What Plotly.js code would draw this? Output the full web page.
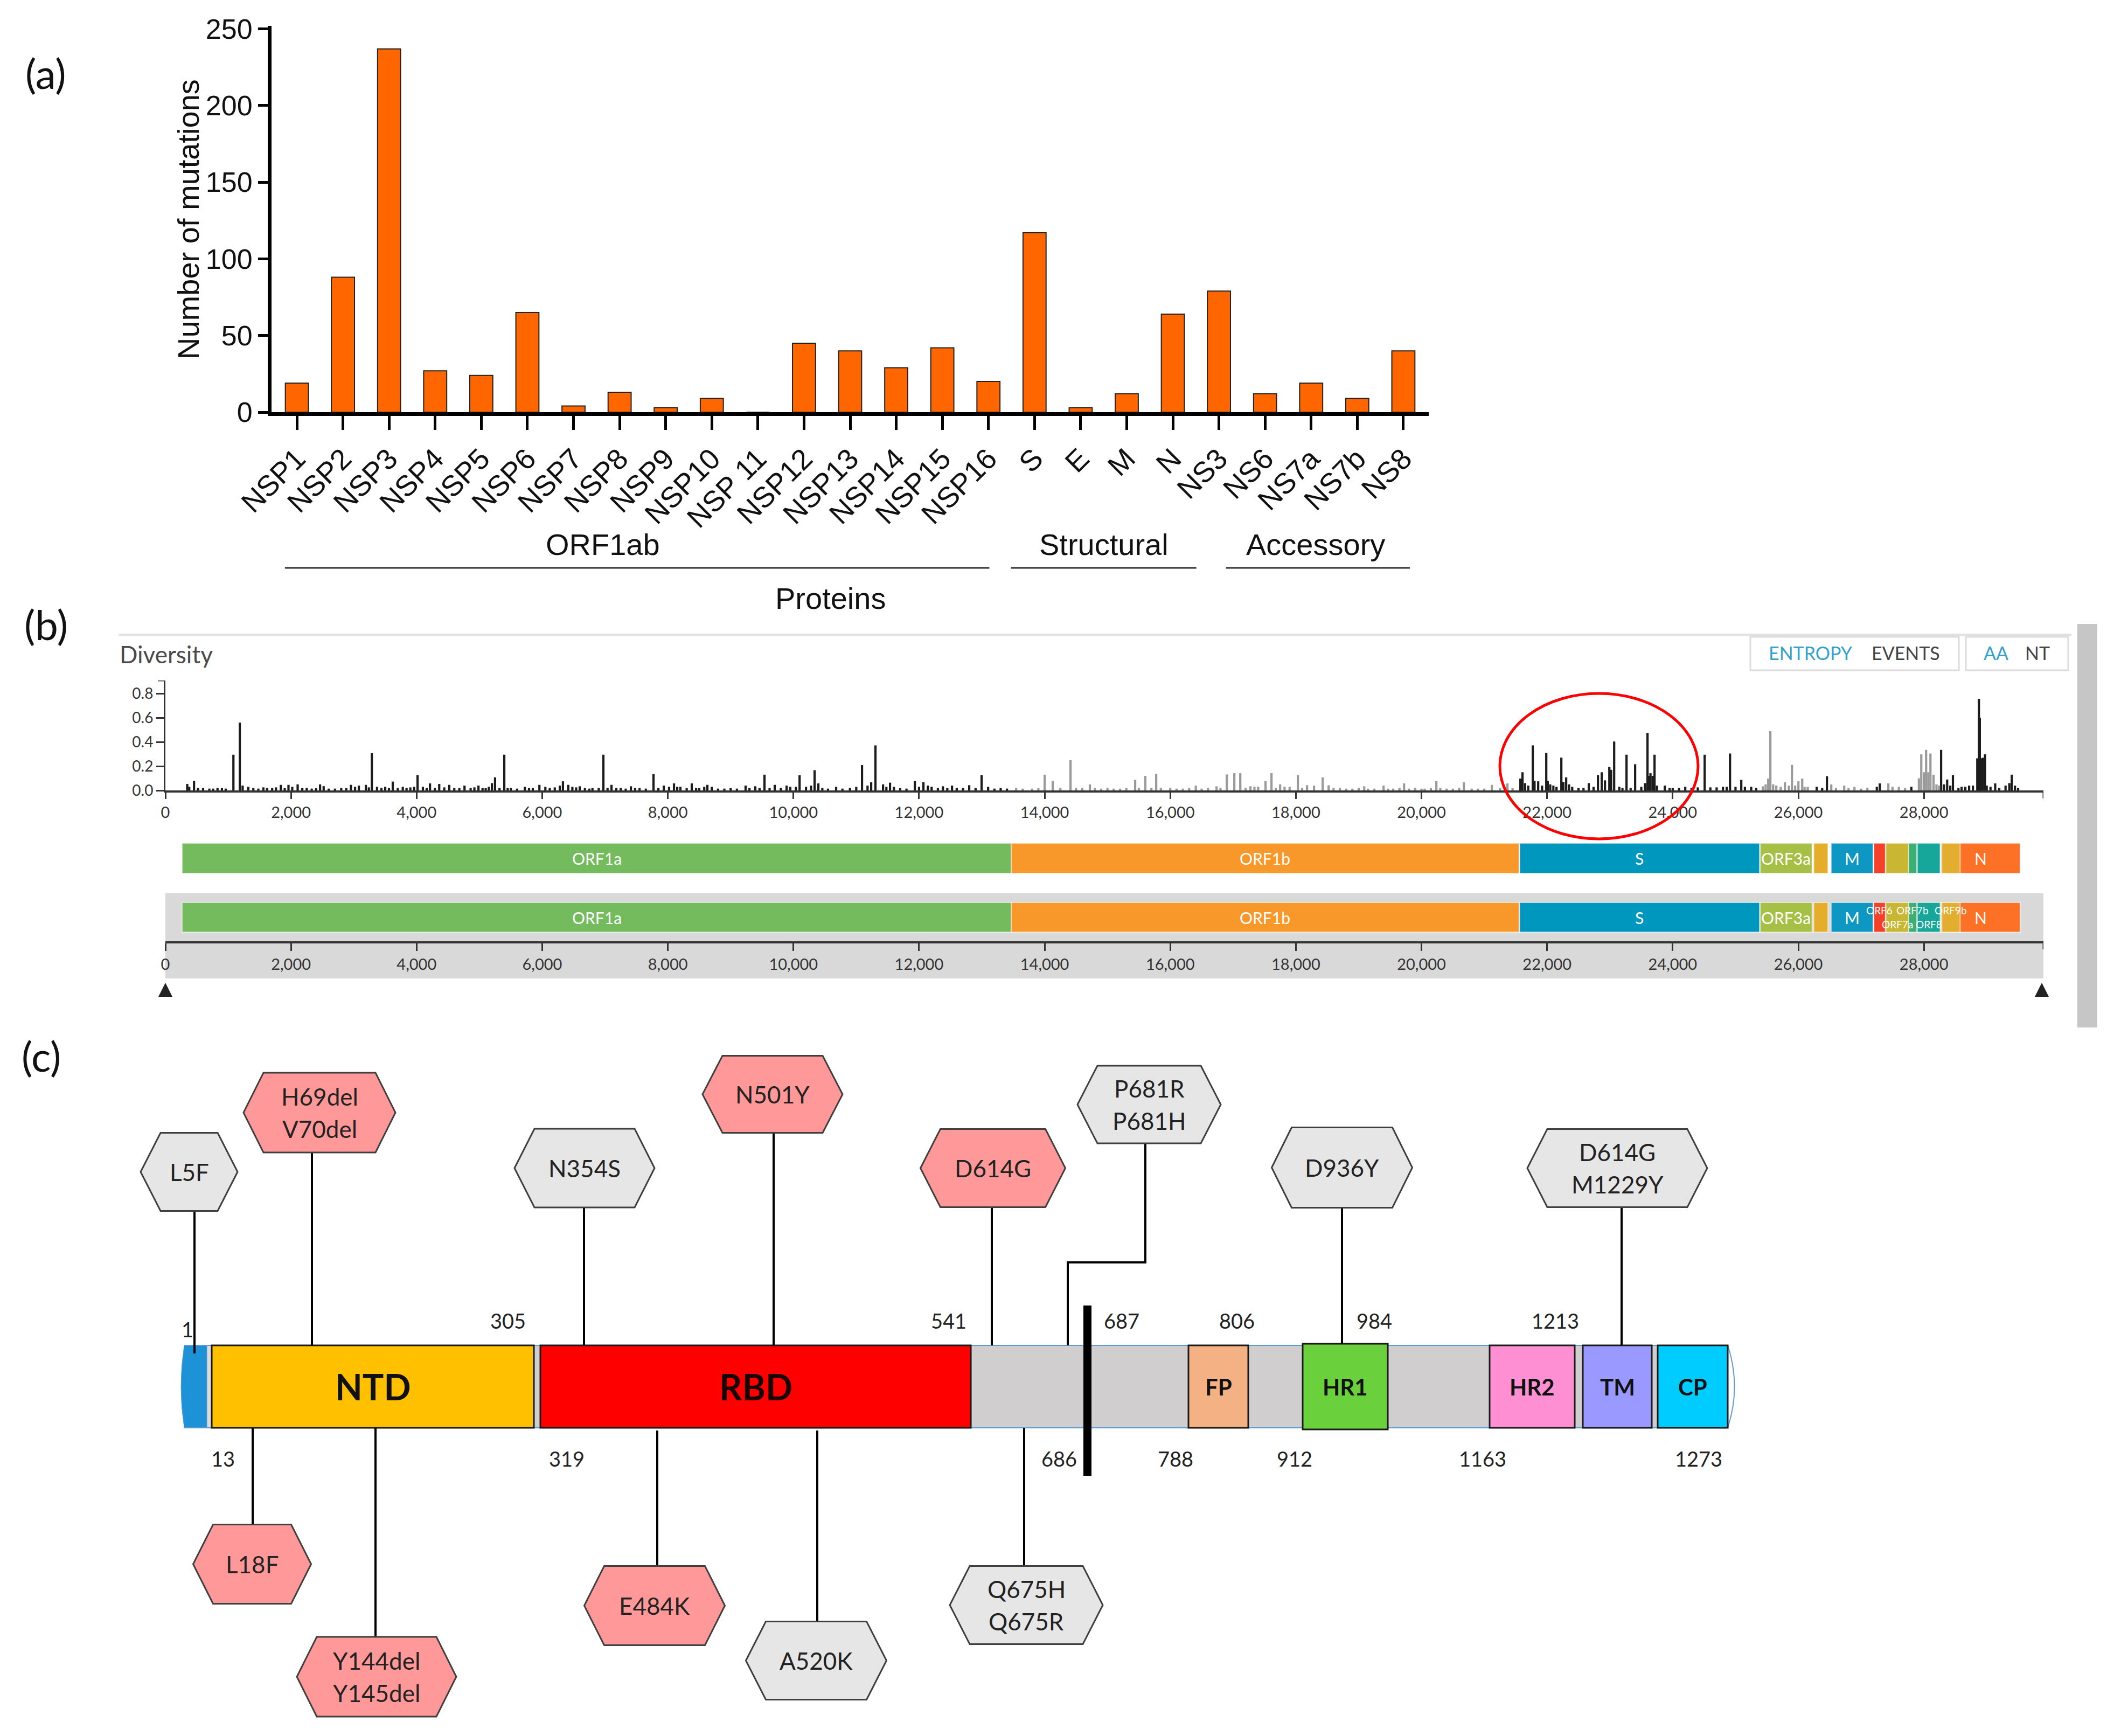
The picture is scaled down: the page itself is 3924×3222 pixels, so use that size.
<!DOCTYPE html>
<html><head><meta charset="utf-8">
<script src="https://cdn.plot.ly/plotly-3.0.1.min.js"></script>
<style>html,body{margin:0;padding:0;background:#fff}#chart{width:3924px;height:3222px}</style>
</head><body><div id="chart"></div>
<script>
// ===================== DATA =====================
// (a) mutations per protein
const proteins = ['NSP1','NSP2','NSP3','NSP4','NSP5','NSP6','NSP7','NSP8','NSP9','NSP10','NSP 11','NSP12','NSP13','NSP14','NSP15','NSP16','S','E','M','N','NS3','NS6','NS7a','NS7b','NS8'];
const mutationCounts = [19,88,237,27,24,65,4,13,3,9,0,45,40,29,42,20,117,3,12,64,79,12,19,9,40];
const groupNames = ['ORF1ab','Structural','Accessory'];
const groupFirst = [0,16,20];
const groupLast = [15,19,24];
const yTicksA = [0,50,100,150,200,250];

// (b) genome diversity (entropy)
const genes      = ['ORF1a','ORF1b','S','ORF3a','E','M','ORF6','ORF7a','ORF7b','ORF8','N','ORF9b'];
const geneStart  = [266,13468,21563,25393,26245,26523,27202,27394,27756,27894,28274,28284];
const geneEnd    = [13468,21555,25384,26220,26472,27191,27387,27759,27887,28259,29533,28577];
const mainTrackLabels = ['ORF1a','ORF1b','S','ORF3a','M','N'];
const navTrackLabels  = ['ORF1a','ORF1b','S','ORF3a','M','ORF6','ORF7a','ORF7b','ORF8','ORF9b','N'];
const genomeLength = 29903;
const entropyTicks = [0,0.2,0.4,0.6,0.8];
const entropyPos = [348,380,456,520,600,700,760,830,900,960,1083,1185,1230,1320,1400,1480,1560,1620,1700,1760,1838,1900,1960,2020,2106,2180,2250,2330,2400,2463,2520,2600,2700,2800,2880,2954,3020,3080,3192,3240,3287,3370,3440,3500,3560,3620,3700,3780,3840,3900,3960,4015,4100,4160,4213,4290,4360,4440,4520,4600,4680,4763,4860,4920,4985,5050,5100,5150,5199,5249,5320,5396,5450,5500,5600,5723,5790,5850,5955,6050,6120,6200,6280,6330,6415,6480,6540,6597,6680,6750,6800,6900,6974,7040,7103,7180,7250,7330,7412,7480,7550,7650,7772,7850,7936,8020,8098,8150,8200,8300,8381,8450,8500,8580,8630,8700,8800,8900,9000,9100,9238,9300,9393,9460,9539,9620,9702,9800,9891,9950,10040,10098,10200,10280,10337,10397,10460,10550,10680,10780,10900,11000,11092,11180,11238,11306,11427,11480,11538,11600,11700,11800,11933,12000,12070,12140,12200,12300,12380,12450,12525,12600,12700,12799,12900,12996,13100,13200,13300,13400,
13546,13650,13800,13900,14000,14128,14250,14412,14500,14600,14720,14800,14900,15000,15100,15200,15300,15441,15500,15603,15700,15776,15850,16000,16100,16200,16300,16407,16500,16600,16737,16800,16900,17020,17115,17200,17277,17340,17400,17517,17612,17680,17749,17820,17900,18032,18100,18178,18289,18427,18522,18600,18700,18800,18900,19000,19088,19150,19250,19397,19470,19550,19650,19723,19800,19900,20000,20050,20150,20237,20300,20400,20500,20600,20675,20800,20900,21000,21120,21250,21369,21450,
21575,21609,21650,21700,21772,21800,21858,21920,21987,22010,22050,22100,22150,22227,22260,22304,22350,22400,22500,22580,22664,22740,22810,22870,22922,22991,23020,23068,23150,23200,23265,23330,23402,23500,23560,23599,23620,23646,23680,23711,23750,23874,23950,24000,24100,24200,24300,24400,24509,24600,24700,24800,24860,24913,25000,25092,25150,25250,25330,
25435,25480,25521,25555,25600,25650,25720,25787,25850,25899,25950,26002,26062,26100,26150,
26293,26380,26456,26525,26600,26731,26800,26894,27000,27100,27250,27297,27434,27500,27600,27700,27800,
27920,27958,28000,28035,28070,28104,28153,28200,28240,
28274,28320,28370,28420,28462,28550,28600,28660,28720,28780,28850,28876,28890,28910,28940,28973,29000,29060,29135,29200,29300,29360,29399,29450,29500];
const entropyVal = [.053,.03,.08,.02,.02,.015,.015,.02,.02,.015,.295,.56,.04,.03,.02,.015,.025,.02,.02,.025,.046,.02,.046,.03,.05,.02,.02,.015,.02,.05,.035,.015,.015,.02,.02,.046,.03,.04,.046,.025,.308,.03,.02,.03,.02,.073,.02,.03,.02,.025,.03,.127,.03,.02,.058,.02,.053,.025,.046,.02,.02,.04,.02,.025,.04,.02,.02,.03,.06,.108,.02,.295,.02,.02,.015,.03,.02,.02,.046,.03,.02,.025,.04,.075,.046,.03,.025,.034,.02,.015,.02,.02,.295,.02,.046,.02,.02,.015,.034,.02,.02,.015,.135,.02,.04,.03,.058,.03,.03,.02,.058,.02,.02,.03,.046,.03,.015,.015,.02,.015,.04,.02,.034,.02,.13,.02,.046,.02,.04,.03,.03,.126,.03,.04,.167,.058,.02,.015,.03,.015,.02,.03,.209,.04,.068,.372,.05,.03,.064,.03,.02,.015,.078,.03,.068,.04,.03,.02,.034,.02,.04,.02,.02,.043,.02,.127,.03,.015,.02,.015,
.02,.015,.015,.02,.13,.08,.02,.25,.02,.02,.05,.02,.015,.02,.015,.015,.02,.087,.02,.12,.02,.138,.02,.02,.015,.015,.02,.04,.015,.02,.034,.02,.132,.142,.142,.02,.034,.03,.03,.078,.142,.02,.05,.03,.03,.127,.02,.043,.04,.108,.043,.02,.02,.015,.015,.02,.034,.015,.015,.04,.015,.015,.02,.058,.015,.02,.015,.015,.02,.078,.02,.015,.015,.02,.068,.015,.015,.015,.046,.02,.058,.02,
.098,.15,.06,.04,.372,.08,.075,.04,.31,.08,.05,.04,.03,.271,.07,.108,.05,.03,.02,.02,.06,.03,.127,.15,.083,.194,.17,.404,.03,.02,.295,.02,.216,.03,.06,.476,.12,.142,.12,.295,.04,.04,.02,.02,.02,.03,.02,.025,.295,.025,.025,.03,.03,.305,.03,.087,.03,.03,.02,
.034,.05,.098,.49,.05,.04,.03,.068,.04,.212,.04,.075,.098,.03,.03,
.03,.02,.117,.05,.02,.04,.02,.03,.015,.02,.03,.058,.058,.03,.03,.02,.03,
.1,.298,.15,.335,.15,.305,.13,.05,.04,
.335,.05,.09,.04,.127,.02,.03,.03,.04,.04,.265,.757,.6,.265,.27,.298,.04,.03,.058,.02,.04,.06,.13,.04,.02];

// (c) spike protein schematic
const domainNames = ['NTD','RBD','FP','HR1','HR2','TM','CP'];
const topBoundaries = ['1','305','541','687','806','984','1213'];
const bottomBoundaries = ['13','319','686','788','912','1163','1273'];
const mutationLabels = [['L5F'],['H69del','V70del'],['N354S'],['N501Y'],['D614G'],['P681R','P681H'],['D936Y'],['D614G','M1229Y'],['L18F'],['Y144del','Y145del'],['E484K'],['A520K'],['Q675H','Q675R']];
const mutationHighlighted = [false,true,false,true,true,false,false,false,true,true,true,false,false];

// ===================== STYLE / POSITIONS =====================
const W = 3924, H = 3222;
const PX = p => p / W, PY = p => 1 - p / H;
const barColor = '#FF6600';
const geneColors = ['#74BB5E','#F8982A','#0097BF','#A6BF45','#E4AE2B','#0E97C2','#F5402A','#C9B733','#3DAF74','#16A79A','#FC7125','#E3AE2F'];
const spikeColors = ['#1c1c1c','#9a9a9a'];
const groupLineExt = [[-0.26,15.02],[15.49,19.51],[20.15,24.14]];
const groupLabelX = [6.64,17.5,22.1];
const smallLabelStagger = {ORF6:-13, ORF7a:13, ORF7b:-13, ORF8:13, ORF9b:-13};
const domainBoxes = [ // x0,x1,fill,textColor,fontSize
  [393,991,'#FFC000','#111',66],[1003,1802,'#FF0000','#1a0000',66],[2206,2317,'#F4B183','#111',42],
  [2418,2576,'#6AD13C','#111',42],[2765,2923,'#FF8FD3','#111',42],[2938,3066,'#9999FF','#111',42],[3077,3207,'#00CCFF','#111',42]];
const topBoundX = [348,943,1761,2082,2296,2551,2887];
const botBoundX = [414,1052,1966,2182,2403,2752,3153];
const mutLayout = [ // cx, cy, w, h, stemX, stemY0, stemY1
  [351,2175,180,145,361,2247,2512],[593,2065,282,148,579,2139,2497],[1085,2168,260,146,1084,2241,2497],
  [1434,2031,260,143,1436,2102,2497],[1843,2168,269,145,1841,2241,2497],[2133,2050,266,144,null,null,null],
  [2491,2167,261,149,2491,2241,2494],[3002,2168,334,145,3010,2241,2497],
  [468,2903,219,147,469,2650,2830],[699,3112,296,148,697,2650,3038],[1215,2980,261,147,1220,2655,2906],
  [1515,3082,261,145,1517,2655,3009],[1905,2979,284,145,1901,2650,2906]];

// ===================== TRACES =====================
const traces = [];
traces.push({type:'bar', x:proteins, y:mutationCounts, xaxis:'x', yaxis:'y', width:0.5,
  marker:{color:barColor, line:{color:'#222', width:2}}, hoverinfo:'skip'});

function geneIndexOf(p){ for(let i=0;i<genes.length-1;i++){ if(p>=geneStart[i] && p<=geneEnd[i]) return i; } return 0; }
[0,1].forEach(par=>{
  const xs=[], ys=[];
  entropyPos.forEach((p,i)=>{ if(geneIndexOf(p)%2===par){ xs.push(p); ys.push(entropyVal[i]); } });
  traces.push({type:'bar', x:xs, y:ys, xaxis:'x2', yaxis:'y2', width:36, marker:{color:spikeColors[par], line:{width:0}}, hoverinfo:'skip'});
});
traces.push({type:'scatter', x:[null], y:[null], xaxis:'x3', yaxis:'y3', hoverinfo:'skip', showlegend:false});
traces.push({type:'scatter', x:[null], y:[null], xaxis:'x9', yaxis:'y9', hoverinfo:'skip', showlegend:false});

// ===================== SHAPES & ANNOTATIONS =====================
const shapes = [], ann = [];
const P = (o)=>Object.assign({xref:'x9', yref:'y9'}, o);
const txt = (x,y,t,size,color,extra)=>ann.push(Object.assign({xref:'x9',yref:'y9',x:x,y:y,text:t,showarrow:false,
  font:{family:'Lato, sans-serif',size:size,color:color},xanchor:'center',yanchor:'middle'},extra||{}));

// panel labels
txt(85,135,'(a)',76,'#111'); txt(85,1158,'(b)',76,'#111'); txt(76,1959,'(c)',76,'#111');

// (a) y-axis title, group labels, lines
ann.push({xref:'x9',yref:'y9',x:349,y:407,text:'Number of mutations',textangle:-90,showarrow:false,
  font:{family:'Liberation Sans, Arial, sans-serif',size:56,color:'#111'},xanchor:'center',yanchor:'middle'});
groupNames.forEach((g,i)=>{
  ann.push({xref:'x',yref:'y9',x:groupLabelX[i],y:1010,text:g,showarrow:false,
    font:{family:'Liberation Sans, Arial, sans-serif',size:56,color:'#111'},xanchor:'center',yanchor:'middle'});
  shapes.push({type:'line',xref:'x',yref:'y9',x0:groupLineExt[i][0],x1:groupLineExt[i][1],y0:1054,y1:1054,line:{color:'#333',width:3}});
});
ann.push({xref:'x',yref:'y9',x:11.57,y:1110,text:'Proteins',showarrow:false,
  font:{family:'Liberation Sans, Arial, sans-serif',size:56,color:'#111'},xanchor:'center',yanchor:'middle'});

// (b) header
shapes.push(P({type:'line',x0:220,x1:3845,y0:1178,y1:1178,line:{color:'#E2E2E2',width:4}}));
txt(220,1214,'Diversity',44,'#4a4a4a',{xanchor:'left'});
shapes.push(P({type:'rect',x0:3249,x1:3636,y0:1182,y1:1244,line:{color:'#DCDCDC',width:3},fillcolor:'#fff'}));
shapes.push(P({type:'rect',x0:3649,x1:3839,y0:1182,y1:1244,line:{color:'#DCDCDC',width:3},fillcolor:'#fff'}));
txt(3361,1211,'ENTROPY',34,'#33A0CC'); txt(3537,1211,'EVENTS',34,'#444');
txt(3705,1211,'AA',34,'#33A0CC'); txt(3782,1211,'NT',34,'#444');
// scrollbar
shapes.push(P({type:'rect',x0:3856,x1:3893,y0:1158,y1:1907,line:{width:0},fillcolor:'#C6C6C6'}));
// nav grey band
shapes.push({type:'rect',xref:'x2',yref:'y9',x0:0,x1:genomeLength,y0:1658,y1:1816,line:{width:0},fillcolor:'#D9D9D9',layer:'below'});
// gene tracks
[[1565,1621,mainTrackLabels,false],[1675,1730,navTrackLabels,true]].forEach(([y0,y1,labs,stagger])=>{
  genes.forEach((g,i)=>{
    shapes.push({type:'rect',xref:'x2',yref:'y9',x0:geneStart[i],x1:geneEnd[i],y0:y0,y1:y1,fillcolor:geneColors[i],
      line:{color:'rgba(255,255,255,0.55)',width:2},layer:'below'});
  });
  genes.forEach((g,i)=>{
    if(labs.indexOf(g)<0) return;
    const small = stagger && (g in smallLabelStagger);
    ann.push({xref:'x2',yref:'y9',x:(geneStart[i]+geneEnd[i])/2,y:(y0+y1)/2+(small?smallLabelStagger[g]:0),text:g,showarrow:false,
      font:{family:'Lato, sans-serif',size:small?19:30,color:'#fff'},xanchor:'center',yanchor:'middle'});
  });
});
// axis end ticks + triangles
shapes.push({type:'line',xref:'x2',yref:'y9',x0:genomeLength,x1:genomeLength,y0:1467,y1:1482,line:{color:'#333',width:3}});
shapes.push({type:'line',xref:'x2',yref:'y9',x0:genomeLength,x1:genomeLength,y0:1747,y1:1762,line:{color:'#333',width:3}});
shapes.push({type:'line',xref:'x9',yref:'y2',x0:293,x1:307,y0:0.908,y1:0.908,line:{color:'#333',width:3}});
[307,3790].forEach(x=>shapes.push(P({type:'path',path:`M${x-13},1850 L${x},1824 L${x+13},1850 Z`,fillcolor:'#222',line:{width:0}})));
// red circle
shapes.push(P({type:'circle',x0:2784,x1:3152,y0:1287,y1:1557,line:{color:'#FF0000',width:5}}));

// (c) spike schematic
const by0=2497, by1=2650;
shapes.push(P({type:'rect',x0:384,x1:3207,y0:by0,y1:by1,fillcolor:'#D0CECE',line:{width:0}}));
shapes.push(P({type:'rect',x0:384,x1:393,y0:by0,y1:by1,fillcolor:'#DCDCDC',line:{width:0}}));
shapes.push(P({type:'path',path:`M342,${by0} L384,${by0} L384,${by1} L342,${by1} Q330,${(by0+by1)/2} 342,${by0} Z`,fillcolor:'#1E92D6',line:{color:'#5B9BD5',width:1}}));
shapes.push(P({type:'line',x0:342,x1:3207,y0:by0,y1:by0,line:{color:'#5B9BD5',width:2}}));
shapes.push(P({type:'line',x0:342,x1:3207,y0:by1,y1:by1,line:{color:'#5B9BD5',width:2}}));
shapes.push(P({type:'path',path:`M3207,${by0} Q3232,${(by0+by1)/2} 3207,${by1}`,line:{color:'#5B9BD5',width:2}}));
domainBoxes.forEach((d,i)=>{
  const tall = domainNames[i]==='HR1';
  shapes.push(P({type:'rect',x0:d[0],x1:d[1],y0:tall?by0-3:by0,y1:tall?by1+3:by1,fillcolor:d[2],line:{color:'#1a1a1a',width:3}}));
  ann.push({xref:'x9',yref:'y9',x:(d[0]+d[1])/2,y:(by0+by1)/2,text:'<b>'+domainNames[i]+'</b>',showarrow:false,
    font:{family:'Lato, sans-serif',size:d[4],color:d[3]},xanchor:'center',yanchor:'middle'});
});
// cleavage site bar
shapes.push(P({type:'rect',x0:2011,x1:2026,y0:2423,y1:2739,fillcolor:'#000',line:{width:0}}));
topBoundaries.forEach((t,i)=>txt(topBoundX[i],t==='1'?2467:2451,t,38,'#222'));
bottomBoundaries.forEach((t,i)=>txt(botBoundX[i],2707,t,38,'#222'));
// stems
mutLayout.forEach(m=>{ if(m[4]!==null) shapes.push(P({type:'line',x0:m[4],x1:m[4],y0:m[5],y1:m[6],line:{color:'#000',width:4}})); });
shapes.push(P({type:'path',path:'M2126,2122 L2126,2343 L1982,2343 L1982,2497',line:{color:'#000',width:4}}));
// hexagons
const inset = 37;
mutLayout.forEach((m,i)=>{
  const [cx,cy,w,h]=m, x0=cx-w/2, x1=cx+w/2, y0=cy-h/2, y1=cy+h/2;
  shapes.push(P({type:'path',path:`M${x0+inset},${y0} L${x1-inset},${y0} L${x1},${cy} L${x1-inset},${y1} L${x0+inset},${y1} L${x0},${cy} Z`,
    fillcolor:mutationHighlighted[i]?'#FF9999':'#E7E6E6',line:{color:'#3F3F3F',width:3}}));
  const lines = mutationLabels[i];
  lines.forEach((l,j)=>txt(cx, cy+(j-(lines.length-1)/2)*60, l, 44, '#222'));
});

// ===================== LAYOUT =====================
const layout = {
  width:W, height:H, margin:{l:0,r:0,t:0,b:0}, paper_bgcolor:'#fff', plot_bgcolor:'rgba(0,0,0,0)',
  showlegend:false, barmode:'overlay',
  xaxis:{domain:[PX(504),PX(2652)], anchor:'y', type:'category', range:[-0.55,24.55], showline:true, linecolor:'#000', linewidth:7,
    ticks:'outside', ticklen:26, tickwidth:5, tickcolor:'#000', tickangle:-45, showgrid:false, zeroline:false,
    tickfont:{family:'Liberation Sans, Arial, sans-serif', size:54, color:'#111'}},
  yaxis:{domain:[PY(765),PY(48)], anchor:'x', range:[0,252], tickvals:yTicksA, showline:true, linecolor:'#000', linewidth:7,
    ticks:'outside', ticklen:18, tickwidth:5, tickcolor:'#000', showgrid:false, zeroline:false,
    tickfont:{family:'Liberation Sans, Arial, sans-serif', size:52, color:'#111'}},
  xaxis2:{domain:[PX(307),PX(3793)], anchor:'y2', range:[0,genomeLength], showline:true, linecolor:'#333', linewidth:4,
    ticks:'outside', ticklen:12, tickwidth:3, tickcolor:'#333', tick0:0, dtick:2000, tickformat:',d', showgrid:false, zeroline:false,
    tickfont:{family:'Lato, sans-serif', size:29, color:'#333'}},
  yaxis2:{domain:[PY(1467),PY(1263)], anchor:'x2', range:[0,0.908], tickvals:entropyTicks, tickformat:'.1f', showline:true, linecolor:'#333', linewidth:3,
    ticks:'outside', ticklen:14, tickwidth:3, tickcolor:'#333', showgrid:false, zeroline:false,
    tickfont:{family:'Lato, sans-serif', size:28, color:'#333'}},
  xaxis3:{domain:[PX(307),PX(3793)], anchor:'y3', range:[0,genomeLength], showline:true, linecolor:'#333', linewidth:4,
    ticks:'outside', ticklen:14, tickwidth:3, tickcolor:'#333', tick0:0, dtick:2000, tickformat:',d', showgrid:false, zeroline:false,
    tickfont:{family:'Lato, sans-serif', size:29, color:'#333'}},
  yaxis3:{domain:[PY(1747),PY(1700)], anchor:'x3', visible:false, range:[0,1]},
  xaxis9:{domain:[0,1], anchor:'y9', range:[0,W], visible:false, fixedrange:true},
  yaxis9:{domain:[0,1], anchor:'x9', range:[H,0], visible:false, fixedrange:true},
  shapes:shapes, annotations:ann
};
Plotly.newPlot('chart', traces, layout, {displayModeBar:false, staticPlot:true});
</script></body></html>
